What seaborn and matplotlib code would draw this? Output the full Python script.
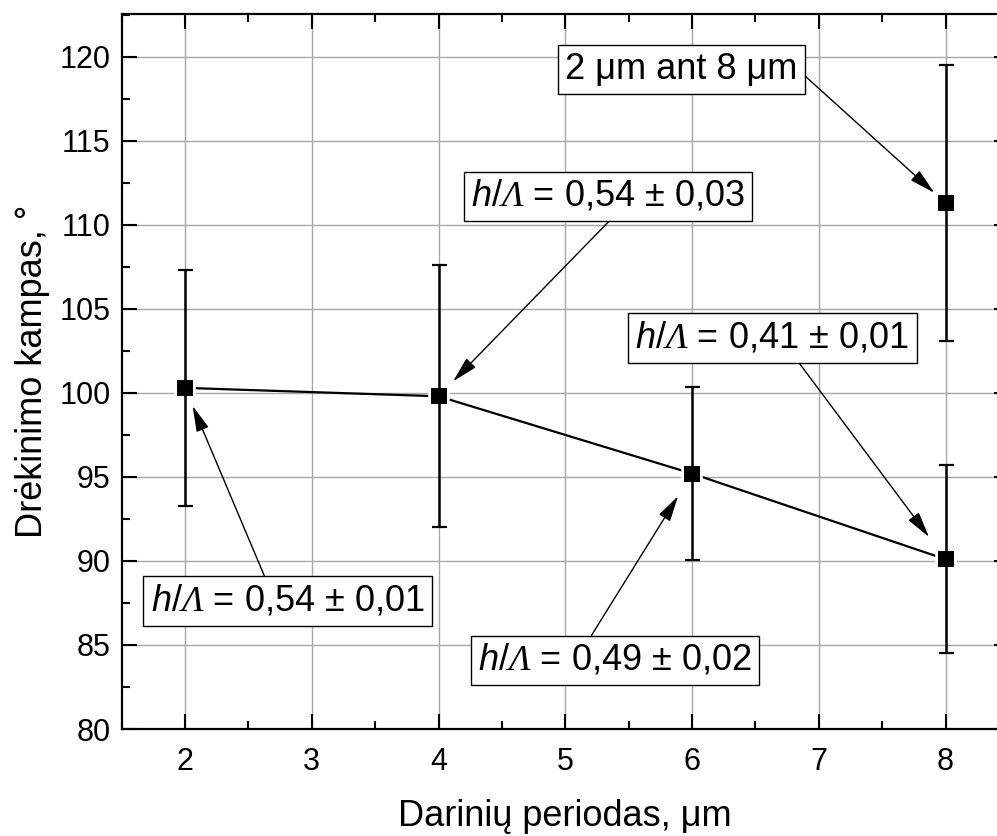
import matplotlib
matplotlib.use("Agg")
import matplotlib.pyplot as plt
from matplotlib.ticker import MultipleLocator
import seaborn as sns
import pandas as pd

# Wetting angle vs. structure period
periods = [2, 4, 6, 8]
angles = [100.3, 99.8, 95.2, 90.1]
angle_err = [7.0, 7.8, 5.15, 5.6]

# Combined structure: 2 um on top of 8 um
combo_period = [8]
combo_angle = [111.3]
combo_err = [8.2]

ratio_labels = ["0,54 ± 0,01", "0,54 ± 0,03", "0,49 ± 0,02", "0,41 ± 0,01"]
combo_label = "2 μm ant 8 μm"

x_label = "Darinių periodas, μm"
y_label = "Drėkinimo kampas, °"

sns.set_theme(style="ticks", rc={"text.color": "black",
                                 "axes.labelcolor": "black",
                                 "xtick.color": "black",
                                 "ytick.color": "black"})
plt.rcParams["font.family"] = ["Liberation Sans", "DejaVu Sans"]
plt.rcParams["mathtext.fontset"] = "custom"
plt.rcParams["mathtext.rm"] = "Liberation Sans"
plt.rcParams["mathtext.it"] = "Liberation Sans:italic"
plt.rcParams["mathtext.sf"] = "Liberation Serif:italic"

df = pd.DataFrame({"period": periods, "angle": angles, "err": angle_err})
df_combo = pd.DataFrame({"period": combo_period, "angle": combo_angle, "err": combo_err})

fig = plt.figure(figsize=(9.97, 8.36), dpi=100)
ax = fig.add_axes([0.12197, 0.12799, 0.89007, 0.85526])

# connecting line, with white-edged markers leaving a small gap at each point
sns.lineplot(data=df, x="period", y="angle", ax=ax, color="black", lw=1.6,
             marker="s", markersize=11, markerfacecolor="white",
             markeredgecolor="white", markeredgewidth=4, zorder=3)

for d in (df, df_combo):
    ax.errorbar(d["period"], d["angle"], yerr=d["err"], fmt="none",
                ecolor="black", elinewidth=1.8, capsize=5.4, capthick=1.6,
                zorder=4)

sns.scatterplot(data=pd.concat([df, df_combo]), x="period", y="angle", ax=ax,
                marker="s", s=120, color="black", edgecolor="black",
                linewidth=0, zorder=5)

ax.set_xlim(1.5, 8.5)
ax.set_ylim(80, 122.55)
ax.xaxis.set_major_locator(MultipleLocator(1))
ax.xaxis.set_minor_locator(MultipleLocator(0.5))
ax.yaxis.set_major_locator(MultipleLocator(5))
ax.yaxis.set_minor_locator(MultipleLocator(2.5))
ax.grid(True, which="major", color="#a8a8a8", lw=1.0, zorder=0)
ax.set_axisbelow(True)

ax.tick_params(which="both", direction="in", top=True, right=True,
               color="black", labelcolor="black", width=1.5)
ax.tick_params(which="major", length=10.5, labelsize=22)
ax.tick_params(which="minor", length=5.5)
ax.tick_params(axis="x", which="major", pad=13)
ax.tick_params(axis="y", which="major", pad=8)
for sp in ax.spines.values():
    sp.set_linewidth(1.6)
    sp.set_color("black")

ax.set_xlabel(x_label, fontsize=26, labelpad=16, color="black")
ax.set_ylabel(y_label, fontsize=26, labelpad=7, color="black")

box = dict(boxstyle="square,pad=0.2", fc="white", ec="black", lw=1.0)


def arrow(relpos, shrink):
    return dict(arrowstyle="-|>,head_length=1.0,head_width=0.25",
                color="black", lw=1.0, mutation_scale=16,
                relpos=relpos, shrinkA=0, shrinkB=shrink)


ratio_text = [r"$\mathit{h/}\mathsf{\Lambda}$ = " + s for s in ratio_labels]

# (text position, relpos on box, gap before the point)
ratio_layout = [((2.809, 87.62), (0.427, 1.0), 14),
                ((5.337, 111.70), (0.53, 0.0), 15),
                ((5.392, 84.08), (0.397, 1.0), 19),
                ((6.634, 103.27), (0.577, 0.0), 20)]

for (px, py), txt, (pos, rel, gap) in zip(zip(periods, angles), ratio_text, ratio_layout):
    ax.annotate(txt, xy=(px, py), xytext=pos, textcoords="data",
                fontsize=26, ha="center", va="center", bbox=box,
                color="black", arrowprops=arrow(rel, gap), zorder=6)

ax.annotate(combo_label, xy=(combo_period[0], combo_angle[0]),
            xytext=(5.916, 119.26), textcoords="data", fontsize=26,
            ha="center", va="center", bbox=box, color="black",
            arrowprops=arrow((1.0, 0.5), 11), zorder=6)

fig.savefig("out.png", dpi=100)
